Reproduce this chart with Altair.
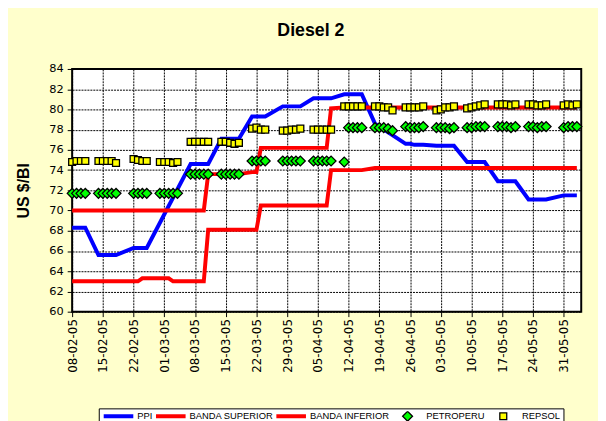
import altair as alt
import pandas as pd

# ---------------- categories ----------------
holidays = ["2005-02-21", "2005-03-25", "2005-05-30"]
dates = [d.strftime("%Y-%m-%d") for d in pd.bdate_range("2005-02-08", "2005-06-03")
         if d.strftime("%Y-%m-%d") not in holidays]

tick_dates = ["2005-02-08", "2005-02-15", "2005-02-22", "2005-03-01", "2005-03-08",
              "2005-03-15", "2005-03-22", "2005-03-29", "2005-04-05", "2005-04-12",
              "2005-04-19", "2005-04-26", "2005-05-03", "2005-05-10", "2005-05-17",
              "2005-05-24", "2005-05-31"]
x_domain = ["2005-02-08", "2005-06-04"]
y_ticks = [60, 62, 64, 66, 68, 70, 72, 74, 76, 78, 80, 82, 84]

series_names = ["PPI", "BANDA SUPERIOR", "BANDA INFERIOR", "PETROPERU", "REPSOL"]
series_stroke = ["#0000FF", "#FF0000", "#FF0000", "black", "black"]
series_fill = ["transparent", "transparent", "transparent", "#00FF00", "#FFFF00"]
series_shape = ["stroke", "stroke", "stroke", "diamond", "square"]
series_size = [900, 900, 900, 100, 49]
series_width = [4, 4, 4, 1.3, 1.3]

N = None
# ---------------- series (one value per business day, week by week) ----------------
ppi = [68.3, 68.3, 68.3, 68.3,
       65.6, 65.6, 65.6, 65.6, 65.6,
       66.3, 66.3, 66.3, 66.3,
       N, N, N, N, N,
       74.6, 74.6, 74.6, 74.6, 74.6,
       77.1, 77.1, 77.1, 77.1, 77.1,
       79.3, 79.3, 79.3, 79.3,
       80.3, 80.3, 80.3, 80.3, 80.3,
       81.1, 81.1, 81.1, 81.1, 81.1,
       81.5, 81.5, 81.5, 81.5, 81.5,
       78.6, N, N, N, N,
       76.6, 76.6, 76.5, 76.5, 76.5,
       76.4, 76.4, 76.4, 76.4, 76.4,
       74.8, 74.8, 74.8, 74.8, 74.8,
       72.9, 72.9, 72.9, 72.9, 72.9,
       71.1, 71.1, 71.1, 71.1, 71.1,
       71.5, 71.5, 71.5, 71.5]

banda_sup = [70.0, 70.0, 70.0, 70.0,
             70.0, 70.0, 70.0, 70.0, 70.0,
             70.0, 70.0, 70.0, 70.0,
             70.0, 70.0, 70.0, 70.0, 70.0,
             70.0, 70.0, 70.0, 70.0, 73.6,
             73.6, 73.6, 73.6, 73.6, 73.6,
             73.8, 73.8, 76.2, 76.2,
             76.2, 76.2, 76.2, 76.2, 76.2,
             76.2, 76.2, 76.2, 76.2, 80.1,
             80.2, 80.2, 80.2, 80.2, 80.2,
             80.2, 80.2, 80.2, 80.2, 80.2,
             80.2, 80.2, 80.2, 80.2, 80.2,
             80.2, 80.2, 80.2, 80.2, 80.2,
             80.2, 80.2, 80.2, 80.2, 80.2,
             80.2, 80.2, 80.2, 80.2, 80.2,
             80.2, 80.2, 80.2, 80.2, 80.2,
             80.2, 80.2, 80.2, 80.2]

banda_inf = [63.0, 63.0, 63.0, 63.0,
             63.0, 63.0, 63.0, 63.0, 63.0,
             63.0, 63.0, 63.3, 63.3,
             63.3, 63.3, 63.3, 63.0, 63.0,
             63.0, 63.0, 63.0, 63.0, 68.1,
             68.1, 68.1, 68.1, 68.1, 68.1,
             68.1, 68.1, 70.5, 70.5,
             70.5, 70.5, 70.5, 70.5, 70.5,
             70.5, 70.5, 70.5, 70.5, 74.0,
             74.0, 74.0, 74.0, 74.0, 74.0,
             74.2, 74.2, 74.2, 74.2, 74.2,
             74.2, 74.2, 74.2, 74.2, 74.2,
             74.2, 74.2, 74.2, 74.2, 74.2,
             74.2, 74.2, 74.2, 74.2, 74.2,
             74.2, 74.2, 74.2, 74.2, 74.2,
             74.2, 74.2, 74.2, 74.2, 74.2,
             74.2, 74.2, 74.2, 74.2]

petroperu = [71.7, 71.7, 71.7, 71.7,
             71.7, 71.7, 71.7, 71.7, 71.7,
             71.7, 71.7, 71.7, 71.7,
             71.7, 71.7, 71.7, 71.7, 71.7,
             73.6, 73.6, 73.6, 73.6, 73.6,
             73.6, 73.6, 73.6, 73.6, 73.6,
             74.9, 74.9, 74.9, 74.9,
             74.9, 74.9, 74.9, 74.9, 74.9,
             74.9, 74.9, 74.9, 74.9, 74.9,
             74.8, 78.2, 78.2, 78.2, 78.2,
             78.2, 78.2, 78.2, 78.1, 77.9,
             78.3, 78.2, 78.2, 78.2, 78.3,
             78.2, 78.2, 78.2, 78.1, 78.2,
             78.2, 78.2, 78.3, 78.3, 78.3,
             78.3, 78.3, 78.3, 78.2, 78.3,
             78.3, 78.3, 78.2, 78.3, 78.3,
             78.2, 78.3, 78.3, 78.3]

repsol = [74.8, 74.9, 74.9, 74.9,
          74.9, 74.9, 74.9, 74.9, 74.7,
          75.1, 75.0, 74.9, 74.9,
          74.8, 74.8, 74.8, 74.7, 74.8,
          76.8, 76.8, 76.8, 76.8, 76.8,
          76.8, 76.8, 76.7, 76.6, 76.7,
          78.1, 78.2, 78.0, 78.0,
          77.9, 77.9, 78.0, 78.0, 78.1,
          78.0, 78.0, 78.0, 78.0, 78.0,
          80.3, 80.3, 80.3, 80.3, 80.3,
          80.3, 80.3, 80.2, 80.2, 79.9,
          80.2, 80.2, 80.2, 80.2, 80.3,
          79.9, 80.0, 80.2, 80.2, 80.3,
          80.1, 80.2, 80.3, 80.4, 80.5,
          80.5, 80.5, 80.5, 80.4, 80.5,
          80.5, 80.5, 80.4, 80.4, 80.5,
          80.4, 80.5, 80.4, 80.5]

series_values = [ppi, banda_sup, banda_inf, petroperu, repsol]

rows = []
for name, vals in zip(series_names, series_values):
    for d, v in zip(dates, vals):
        rows.append({"date": d, "series": name, "value": v})
df = pd.DataFrame(rows)


def ms(s):
    return int(pd.Timestamp(s, tz="UTC").value // 10**6)


x_axis = alt.Axis(
    values=[ms(t) for t in tick_dates],
    labelExpr="utcFormat(datum.value, '%d-%m-%y')",
    labelAngle=270, labelAlign="right", labelBaseline="middle",
    labelFont="DejaVu Sans", labelFontSize=12, labelColor="black",
    labelPadding=2, labelFlush=False, labelOverlap=False,
    tickSize=5, tickColor="black", tickWidth=1,
    domain=False, grid=True, gridColor="black", gridDash=[2, 1], gridWidth=1,
    title=None,
)
y_axis = alt.Axis(
    values=y_ticks,
    labelFont="DejaVu Sans", labelFontSize=11.5, labelColor="black",
    labelPadding=4, labelFlush=False,
    tickSize=5, tickColor="black", tickWidth=1,
    domain=False, grid=True, gridColor="black", gridDash=[2, 1], gridWidth=1,
    title="US $/Bl", titleFont="Liberation Sans", titleFontSize=16,
    titleFontWeight="bold", titleColor="black",
    titleX=-49, titleY=123, titleAngle=270, titleAlign="center",
    titleBaseline="middle",
)

legend = alt.Legend(
    title=None, orient="none", legendX=27, legendY=344,
    direction="horizontal", columns=5,
    fillColor="white", strokeColor="black", padding=3,
    labelFont="Liberation Sans", labelFontSize=9.5, labelColor="black",
    labelOffset=2, columnPadding=1, clipHeight=10, symbolOpacity=1,
)

x_enc = alt.X("date:T", scale=alt.Scale(type="utc", domain=[ms(d) for d in x_domain]), axis=x_axis)
y_enc = alt.Y("value:Q", scale=alt.Scale(domain=[60, 84]), axis=y_axis)
stroke_enc = alt.Stroke("series:N", scale=alt.Scale(domain=series_names, range=series_stroke),
                        legend=legend)
width_enc = alt.StrokeWidth("series:N",
                            scale=alt.Scale(type="ordinal", domain=series_names, range=series_width),
                            legend=legend)
fill_enc = alt.Fill("series:N", scale=alt.Scale(domain=series_names, range=series_fill),
                    legend=legend)
shape_enc = alt.Shape("series:N", scale=alt.Scale(domain=series_names, range=series_shape),
                      legend=legend)
size_enc = alt.Size("series:N",
                    scale=alt.Scale(type="ordinal", domain=series_names, range=series_size),
                    legend=legend)

base = alt.Chart(df).encode(x=x_enc, y=y_enc)

valid = "isValid(datum.value) && isFinite(datum.value)"
layers = []
for s in series_names[:3]:
    layers.append(
        base.transform_filter(f"datum.series === '{s}'").transform_filter(valid)
        .mark_line().encode(stroke=stroke_enc, strokeWidth=width_enc)
    )
for s in series_names[3:]:
    layers.append(
        base.transform_filter(f"datum.series === '{s}'")
        .mark_point(filled=True, opacity=1)
        .encode(fill=fill_enc, stroke=stroke_enc, strokeWidth=width_enc,
                shape=shape_enc, size=size_enc)
    )

chart = alt.layer(*layers).properties(
    width=516, height=246,
    title=alt.Title("Diesel 2", anchor="middle", dx=-16, offset=9, baseline="alphabetic",
                    font="Liberation Sans", fontSize=18, fontWeight="bold", color="black"),
    autosize=alt.AutoSizeParams(type="none"),
    padding={"left": 65, "top": 59, "right": 17, "bottom": 108},
    background="#FFFFCC",
).configure_view(fill="white", stroke="black", strokeWidth=2)

chart.save("out.html", embed_options={"renderer": "svg", "actions": False})
